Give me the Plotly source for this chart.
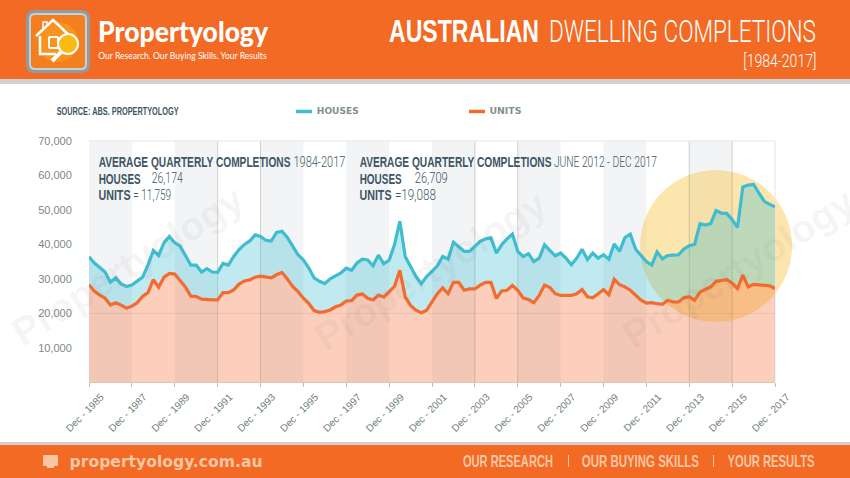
import json
import plotly.graph_objects as go

W, H = 850, 478

quarters = ["Dec - 1985"]
for yr in range(1986, 2018):
    quarters += [f"{m} - {yr}" for m in ("Mar", "Jun", "Sep", "Dec")]

houses = [36.4, 34.6, 33.3, 32.0, 29.0, 30.3, 28.5, 27.8, 28.2, 29.3, 30.5, 34.0, 38.2, 36.8, 40.5, 42.3,
          40.5, 39.5, 36.5, 34.0, 34.0, 32.0, 33.0, 32.0, 31.9, 34.5, 34.0, 36.5, 38.5, 40.0, 41.0, 42.8,
          42.3, 41.2, 41.0, 43.5, 43.8, 42.0, 39.5, 37.0, 35.5, 33.2, 30.3, 29.3, 28.6, 30.0, 30.9, 31.7,
          33.1, 32.5, 34.6, 35.7, 35.5, 33.8, 36.9, 34.4, 35.4, 39.9, 46.7, 36.5, 33.6, 30.7, 28.6, 30.7,
          32.2, 33.8, 36.5, 35.7, 40.6, 39.4, 38.0, 38.0, 39.4, 40.9, 41.6, 41.9, 37.5, 39.9, 41.6, 43.0,
          38.0, 36.5, 37.3, 35.0, 36.0, 39.9, 38.2, 36.7, 37.5, 36.0, 34.1, 36.0, 38.6, 35.6, 37.5, 36.0,
          37.0, 35.7, 40.1, 38.0, 42.0, 43.0, 38.6, 36.8, 35.0, 34.0, 37.8, 35.8, 36.8, 36.9, 37.0, 38.7,
          39.6, 40.0, 46.0, 45.6, 46.0, 49.8, 49.1, 49.0, 47.2, 44.9, 56.7, 57.2, 57.4, 54.9, 52.5, 51.6, 50.9]
units = [28.3, 26.4, 25.3, 24.4, 22.4, 23.1, 22.4, 21.5, 22.1, 23.1, 24.9, 26.0, 29.8, 27.6, 30.5, 31.6,
         31.4, 29.5, 27.6, 25.0, 24.9, 24.1, 23.9, 23.9, 23.9, 26.0, 26.0, 26.8, 28.5, 29.4, 29.7, 30.5,
         30.8, 30.5, 30.3, 31.2, 31.9, 30.0, 27.8, 26.3, 24.4, 22.9, 20.8, 20.3, 20.5, 21.0, 21.9, 22.4,
         23.6, 23.7, 25.3, 25.6, 24.4, 23.9, 25.3, 24.7, 26.3, 27.8, 32.5, 24.8, 22.3, 20.9, 20.2, 20.9,
         23.3, 25.7, 27.4, 25.7, 29.0, 29.0, 26.7, 27.1, 27.1, 28.2, 29.0, 29.0, 24.3, 26.5, 26.7, 28.1,
         26.7, 24.5, 24.0, 23.1, 25.2, 28.2, 27.5, 25.7, 25.2, 25.1, 25.2, 25.7, 26.9, 24.8, 24.5, 25.7,
         26.9, 25.4, 29.9, 28.3, 27.7, 26.7, 25.2, 23.8, 23.0, 23.1, 22.8, 22.6, 23.8, 23.3, 23.3, 24.5,
         24.8, 23.8, 26.2, 26.9, 27.7, 29.3, 29.6, 29.8, 28.8, 27.2, 31.1, 27.7, 28.4, 28.3, 28.0, 28.0, 27.2]
houses = [v * 1000 for v in houses]
units = [v * 1000 for v in units]
y_ticks = [10000, 20000, 30000, 40000, 50000, 60000, 70000]
x_ticks = quarters[::8]
bands = [(quarters[i], quarters[i + 8]) for i in range(0, 128, 16)]
dark_lines = ["Dec - 1991", "Dec - 1993", "Dec - 2003", "Dec - 2005", "Dec - 2013", "Dec - 2015"]

ORANGE = "#F26A23"
TEAL = "#3EBDD0"
LINE_OR = "#F36B2E"
STRIP = "#D2D0CD"
PEACH = "#FBC6A4"
DARK = "#3E5664"
HEAVY = "Liberation Sans"
THIN = "Roboto"

px = lambda v: v / W
py = lambda v: 1 - v / H

fig = go.Figure()
fig.add_trace(go.Scatter(x=quarters, y=units, name="UNITS", mode="lines", showlegend=False,
                         line=dict(color=LINE_OR, width=3.2), fill="tozeroy", fillcolor="rgba(244,106,46,0.32)"))
fig.add_trace(go.Scatter(x=quarters, y=houses, name="HOUSES", mode="lines", showlegend=False,
                         line=dict(color=TEAL, width=3.2), fill="tonexty", fillcolor="rgba(64,190,208,0.33)"))

shapes = []
for a, b in bands:
    shapes.append(dict(type="rect", xref="x", yref="paper", x0=a, x1=b, y0=py(382.3), y1=py(141),
                       fillcolor="#F3F4F6", line_width=0, layer="below"))
# highlight circle sits under the translucent fills, so the lines stay vivid
shapes.append(dict(type="circle", xref="paper", yref="paper", layer="below",
                   x0=px(640), x1=px(792), y0=py(322), y1=py(170),
                   fillcolor="rgba(248,196,62,0.42)", line_width=0))
for q in dark_lines:
    shapes.append(dict(type="line", xref="x", yref="paper", x0=q, x1=q, y0=py(382.3), y1=py(141),
                       line=dict(color="rgba(120,120,120,0.32)", width=1), layer="below"))
shapes.append(dict(type="line", xref="paper", yref="y", x0=px(89), x1=px(775), y0=20000, y1=20000,
                   line=dict(color="rgba(120,120,120,0.14)", width=1), layer="below"))
shapes.append(dict(type="path", xref="paper", yref="paper", layer="below",
                   path=f"M {px(89)} {py(141)} L {px(775)} {py(141)} L {px(775)} {py(382.3)}",
                   line=dict(color="#E4E5E7", width=1)))


def rect(x0, y0, x1, y1, color):
    shapes.append(dict(type="rect", xref="paper", yref="paper", x0=px(x0), x1=px(x1), y0=py(y1), y1=py(y0),
                       fillcolor=color, line_width=0, layer="above"))


def poly(points, line, width=2):
    p = " L ".join(f"{px(x)} {py(y)}" for x, y in points)
    shapes.append(dict(type="path", xref="paper", yref="paper", layer="above", path="M " + p,
                       fillcolor="rgba(0,0,0,0)", line=dict(color=line, width=width)))


def circle(cx, cy, r, fill=None, line=None, width=2):
    shapes.append(dict(type="circle", xref="paper", yref="paper", layer="above",
                       x0=px(cx - r), x1=px(cx + r), y0=py(cy + r), y1=py(cy - r),
                       fillcolor=fill if fill else "rgba(0,0,0,0)",
                       line=dict(color=line if line else "rgba(0,0,0,0)", width=width if line else 0)))


def rrect(x0, y0, x1, y1, r, fill=None, line=None, width=1):
    X0, X1, Y0, Y1 = px(x0), px(x1), py(y0), py(y1)
    rx, ry = r / W, r / H
    path = (f"M {X0+rx} {Y0} L {X1-rx} {Y0} Q {X1} {Y0} {X1} {Y0-ry} L {X1} {Y1+ry} Q {X1} {Y1} {X1-rx} {Y1} "
            f"L {X0+rx} {Y1} Q {X0} {Y1} {X0} {Y1+ry} L {X0} {Y0-ry} Q {X0} {Y0} {X0+rx} {Y0} Z")
    shapes.append(dict(type="path", xref="paper", yref="paper", layer="above", path=path,
                       fillcolor=fill if fill else "rgba(0,0,0,0)",
                       line=dict(color=line if line else "rgba(0,0,0,0)", width=width if line else 0)))


# header / footer
rect(0, 0, W, 79, ORANGE)
rect(0, 79, W, 84, STRIP)
rect(0, 442, W, 445, STRIP)
rect(0, 445, W, H, ORANGE)
# logo
rrect(26, 10, 90, 73, 9, fill="#8F9DA3")
rrect(29, 13, 87, 70, 6, fill="#C9D0D3")
rrect(31, 15, 85, 68, 4, fill="#F47F1E")
circle(58, 42, 20, fill="rgba(250,160,30,0.6)")
poly([(36, 36), (53, 20), (70, 36)], "#FFFFFF", 2.5)
poly([(43, 30), (43, 22), (47, 22), (47, 26)], "#FFFFFF", 1.5)
poly([(40, 36), (40, 54), (56, 54)], "#FFFFFF", 2.5)
poly([(65, 36), (65, 38)], "#FFFFFF", 2.5)
rrect(49, 37, 58, 48, 1, line="#FFFFFF", width=2)
circle(68, 44, 10, fill="#FDB913", line="#FFFFFF", width=2)
poly([(61, 52), (52, 61)], "#FFFFFF", 4)
# legend keys
poly([(296, 111.5), (312, 111.5)], TEAL, 3.5)
poly([(469, 111.5), (485, 111.5)], LINE_OR, 3.5)
# monitor icon
rrect(43, 455, 58, 466, 1, fill=PEACH)
rect(47, 466, 54, 468, PEACH)

anns = []
fit = {}


def text(x0, x1, y, s, size, color, family=HEAVY, weight=None):
    """Text centred between x0 and x1, then fitted to that width in the page."""
    f = dict(family=family, size=size, color=color)
    if weight:
        f["weight"] = weight
    anns.append(dict(xref="paper", yref="paper", x=px((x0 + x1) / 2), y=py(y), text=s, showarrow=False,
                     xanchor="center", yanchor="middle", font=f, borderpad=0, borderwidth=0))
    fit[s] = x1 - x0


for cx, cy in [(128, 265), (430, 270), (738, 268)]:
    anns.append(dict(xref="paper", yref="paper", x=px(cx), y=py(cy), text="Propertyology", showarrow=False,
                     xanchor="center", yanchor="middle", textangle=-32,
                     font=dict(family="Liberation Sans", size=39, weight=700, color="rgba(110,110,110,0.07)")))

text(98, 268, 32, "Propertyology", 27.5, "#FFFFFF", family="Lato", weight=900)
text(98.5, 267, 56, "Our Research. Our Buying Skills. Your Results", 9, "#FFFFFF", family="Lato")
text(389, 539, 31.5, "AUSTRALIAN", 32, "#FFFFFF", weight=700)
text(549, 816, 31.5, "DWELLING COMPLETIONS", 32, "#FFFFFF", family=THIN, weight=300)
text(743, 816, 60, "[1984-2017]", 18, "#FFFFFF", family=THIN, weight=300)
text(57, 179, 111, "SOURCE: ABS. PROPERTYOLOGY", 11.5, DARK, weight=700)
text(317, 358, 111.5, "HOUSES", 9, "#83908F", family="DejaVu Sans", weight=700)
text(490.5, 521, 111.5, "UNITS", 9, "#83908F", family="DejaVu Sans", weight=700)

text(98, 290, 162, "AVERAGE QUARTERLY COMPLETIONS", 15, DARK, weight=700)
text(293, 345, 162, "1984-2017", 15, DARK, family=THIN, weight=300)
text(98, 140, 178, "HOUSES", 15, DARK, weight=700)
text(152, 183, 178, "26,174", 15, DARK, family=THIN, weight=300)
text(98, 130, 194.5, "UNITS", 15, DARK, weight=700)
text(133, 171, 194.5, "= 11,759", 15, DARK, family=THIN, weight=300)
text(359, 551, 162, "AVERAGE QUARTERLY COMPLETIONS", 15, DARK, weight=700)
text(554, 657, 162, "JUNE 2012 - DEC 2017", 15, DARK, family=THIN, weight=300)
text(359, 401, 178, "HOUSES", 15, DARK, weight=700)
text(414, 447, 178, "26,709", 15, DARK, family=THIN, weight=300)
text(359, 391, 194.5, "UNITS", 15, DARK, weight=700)
text(395, 436, 194.5, "=19,088", 15, DARK, family=THIN, weight=300)

text(69, 262, 461, "propertyology.com.au", 16.5, PEACH, family="DejaVu Sans", weight=700)
text(463, 553, 461, "OUR RESEARCH", 16.5, PEACH, weight=700)
text(582, 699, 461, "OUR BUYING SKILLS", 16.5, PEACH, weight=700)
text(727, 814, 461, "YOUR RESULTS", 16.5, PEACH, weight=700)
rect(568, 455, 569, 467, PEACH)
rect(713, 455, 714, 467, PEACH)

fig.update_layout(
    width=W, height=H, margin=dict(l=0, r=0, t=0, b=0), paper_bgcolor="#FFFFFF", plot_bgcolor="rgba(0,0,0,0)",
    showlegend=False, shapes=shapes, annotations=anns,
    font=dict(family="Liberation Sans", color="#6F7D7C"),
    xaxis=dict(domain=[px(89), px(775)], type="category", categoryorder="array", categoryarray=quarters,
               range=[0, 128], tickmode="array", tickvals=x_ticks, ticktext=x_ticks, tickangle=-45,
               ticks="outside", ticklen=4, tickcolor="#B9BDBD", tickwidth=1, showgrid=False,
               showline=True, linecolor="#E3C4B6", linewidth=1, zeroline=False, ticklabelshift=12,
               tickfont=dict(size=10, color="#6F7D7C"), automargin=False),
    yaxis=dict(domain=[py(382.3), py(141)], range=[0, 70000], tickmode="array", tickvals=y_ticks,
               tickformat=",", ticks="outside", ticklen=14, tickcolor="rgba(0,0,0,0)", showgrid=False,
               showline=False, zeroline=False, tickfont=dict(size=11, color="#7C8887"), automargin=False),
)

post = """
document.body.style.margin='0';document.body.style.overflow='hidden';
var fitMap = %s;
function fitTexts(){document.querySelectorAll('.annotation-text').forEach(function(t){
  var g = t.closest('.annotation-text-g');
  if(g && (g.getAttribute('transform')||'').indexOf('rotate')>=0 && parseFloat((g.getAttribute('transform').match(/rotate\\(([^,) ]+)/)||[0,0])[1])!==0) return;
  var w = fitMap[t.textContent];
  if(!w) return;
  var k = w / t.getComputedTextLength();
  var cx = parseFloat(t.getAttribute('x')) || 0;
  t.setAttribute('transform','translate('+cx+' 0) scale('+k+' 1) translate('+(-cx)+' 0)');
});}
fitTexts(); setTimeout(fitTexts, 50); setTimeout(fitTexts, 400);
""" % json.dumps(fit)

fig.write_html("out.html", post_script=post, config={"displayModeBar": False})
